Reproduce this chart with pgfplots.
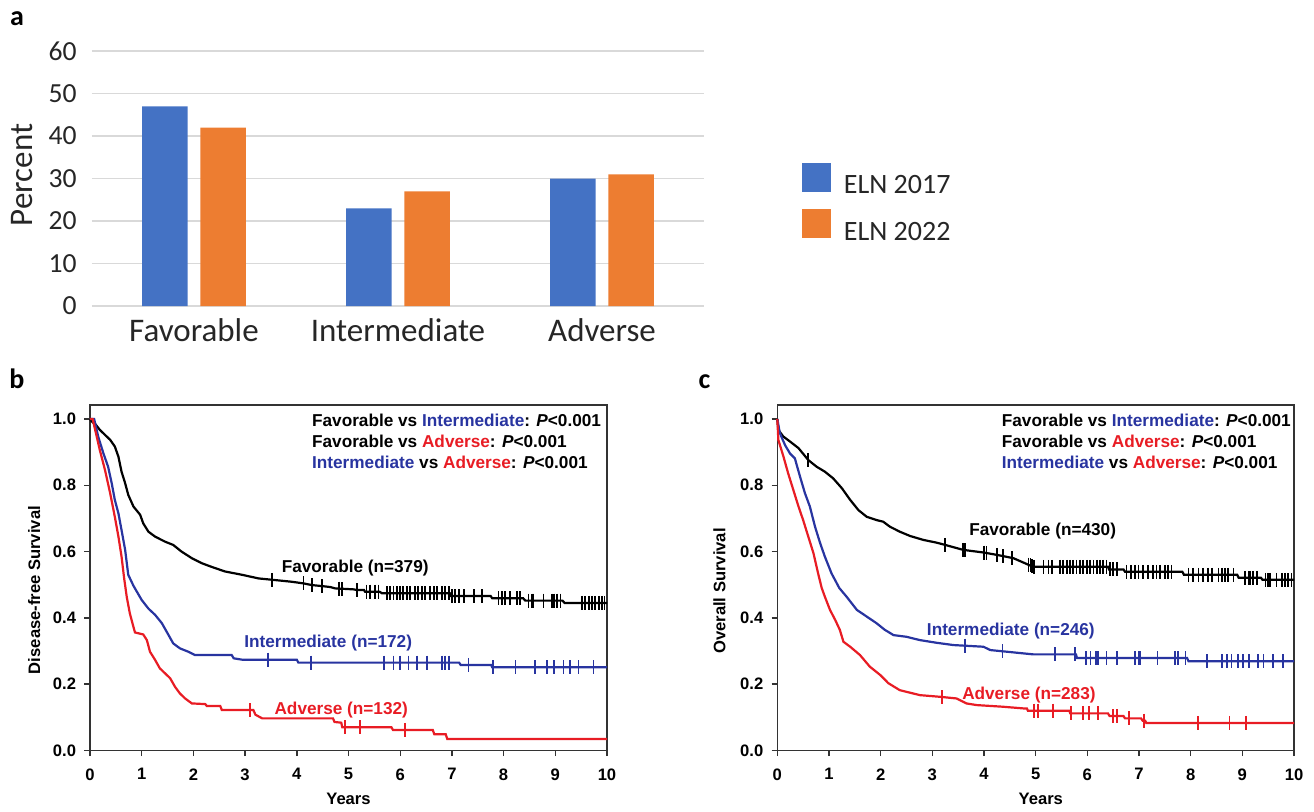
\documentclass[border=0pt]{standalone}
\usepackage{fontspec}
\setmainfont{Carlito}
\newfontfamily\ls{Liberation Sans}
\usepackage{pgfplots}
\pgfplotsset{compat=1.18}
\definecolor{eblue}{HTML}{4472C4}
\definecolor{eorange}{HTML}{ED7D31}
\definecolor{kmblue}{RGB}{40,52,160}
\definecolor{kmred}{RGB}{232,28,36}
\definecolor{gridgray}{HTML}{D9D9D9}
\newcommand\kmfont{\ls\bfseries\fontsize{8.6}{10}\selectfont}
\newcommand\kmtick{\ls\bfseries\fontsize{8.3}{10}\selectfont}
\pgfplotsset{
  sqlegend/.style={legend image code/.code={\fill[##1] (0pt,-2.75pt) rectangle (14.5pt,11.75pt);}},
  km/.style={
    scale only axis, width=258.5pt, height=172.75pt,
    xmin=0, xmax=10, ymin=0, ymax=1.042,
    xtick={0,1,2,3,4,5,6,7,8,9,10}, ytick={0,0.2,0.4,0.6,0.8,1},
    yticklabels={0.0,0.2,0.4,0.6,0.8,1.0},
    xtick pos=bottom, ytick pos=left,
    tick align=outside, major tick length=2.8pt,
    axis line style={line width=0.7pt, black!80},
    tick style={line width=0.7pt, black!80},
    /pgf/number format/assume math mode=true,
    tick label style={font=\kmtick},
    xticklabel style={inner sep=0pt, yshift=-6pt},
    yticklabel style={inner sep=0pt, xshift=-4pt},
    clip=false,
  },
  kmline/.style={line width=1.1pt, mark=none},
  kmcens/.style={only marks, mark=|, mark size=3.5pt, mark options={line width=0.9pt}},
}
\begin{document}
\begin{tikzpicture}
\useasboundingbox (0,0) rectangle (657pt,-405.5pt);
% panel labels
\node[font=\bfseries\fontsize{14}{16}\selectfont, anchor=base] at (8.5pt,-12.5pt) {a};
\node[font=\bfseries\fontsize{14}{16}\selectfont, anchor=base] at (8.5pt,-194pt) {b};
\node[font=\bfseries\fontsize{14}{16}\selectfont, anchor=base] at (352.2pt,-194pt) {c};

% ---------------- panel a ----------------
\begin{axis}[
  at={(46pt,-153pt)}, anchor=south west,
  scale only axis, width=306pt, height=127.5pt,
  xmin=-0.5, xmax=2.5, ymin=0, ymax=60,
  xtick={0,1,2}, xticklabels={Favorable,Intermediate,Adverse},
  ytick={0,10,20,30,40,50,60},
  axis line style={draw=none}, major tick length=0pt, tick style={draw=none},
  ymajorgrids, grid style={draw=gridgray, line width=0.8pt},
  /pgf/number format/assume math mode=true,
  yticklabel style={font=\fontsize{13.8}{15}\selectfont, color=black!85, inner sep=0pt, xshift=-7.5pt},
  xticklabel style={font=\fontsize{16.5}{18}\selectfont, color=black!85, inner sep=0pt, yshift=-6.3pt},
  ylabel={Percent},
  every axis y label/.style={at={(axis description cs:-0.114,0.514)}, rotate=90, anchor=center, font=\fontsize{16.5}{18}\selectfont, color=black!85},
  legend style={at={(axis description cs:1.1596,0.562)}, anchor=north west, draw=none, fill=none,
    inner sep=0pt, outer sep=0pt, row sep=6.15pt, column sep=6.6pt,
    font=\fontsize{14}{16}\selectfont, nodes={inner sep=0pt}, text=black!85},
  legend cell align=left,
]
\addplot[ybar, bar width=22.75pt, bar shift=-14.6pt, fill=eblue, draw=none, sqlegend]
  coordinates {(0,47) (1,23) (2,30)};
\addlegendentry{ELN 2017}
\addplot[ybar, bar width=22.75pt, bar shift=14.6pt, fill=eorange, draw=none, sqlegend]
  coordinates {(0,42) (1,27) (2,31)};
\addlegendentry{ELN 2022}
\end{axis}

% ---------------- panel b ----------------
\begin{axis}[km, at={(45pt,-375.25pt)}, anchor=south west,
  xlabel={Years}, ylabel={Disease-free Survival},
  every axis x label/.style={at={(axis description cs:0.5,0)}, anchor=north, yshift=-21pt, inner sep=0pt, font=\kmtick},
  every axis y label/.style={at={(axis description cs:-0.108,0.4645)}, rotate=90, anchor=center, font=\kmtick},
]
\addplot[kmline, black] coordinates {
(0,1.0) (0.05,0.99) (0.1,0.985) (0.19,0.967) (0.29,0.952) (0.39,0.937) (0.48,0.917) (0.55,0.886) (0.61,0.841) (0.68,0.806) (0.74,0.771) (0.84,0.736) (0.97,0.711) (1.03,0.685) (1.13,0.660) (1.26,0.645) (1.45,0.630) (1.61,0.620) (1.77,0.600) (1.97,0.580) (2.16,0.565) (2.35,0.554) (2.61,0.540) (2.94,0.530) (3.26,0.519) (3.52,0.515) (3.9,0.509) (4.13,0.504) (4.29,0.499) (4.48,0.496) (4.65,0.493) (4.74,0.489) (5.1,0.486) (5.16,0.484) (5.3,0.484) (5.32,0.479) (5.6,0.479) (5.65,0.474) (6.96,0.474) (6.98,0.466) (7.75,0.466) (7.78,0.459) (8.38,0.459) (8.42,0.452) (9.14,0.452) (9.18,0.445) (10,0.445)};
\addplot[kmcens, black] coordinates {
(3.52,0.515) (4.13,0.504) (4.29,0.499) (4.48,0.496) (4.81,0.488) (4.87,0.487) (5.16,0.484) (5.35,0.479) (5.42,0.479) (5.52,0.479) (5.58,0.479) (5.74,0.474) (5.81,0.474) (5.87,0.474) (5.94,0.474) (6.0,0.474) (6.06,0.474) (6.13,0.474) (6.19,0.474) (6.29,0.474) (6.35,0.474) (6.42,0.474) (6.48,0.474) (6.58,0.474) (6.65,0.474) (6.71,0.474) (6.81,0.474) (6.87,0.474) (6.94,0.474) (7.0,0.466) (7.06,0.466) (7.13,0.466) (7.23,0.466) (7.42,0.466) (7.58,0.466) (7.9,0.459) (7.97,0.459) (8.03,0.459) (8.13,0.459) (8.26,0.459) (8.32,0.459) (8.48,0.452) (8.55,0.452) (8.58,0.452) (8.77,0.452) (8.94,0.452) (8.97,0.452) (9.03,0.452) (9.1,0.452) (9.52,0.445) (9.58,0.445) (9.65,0.445) (9.71,0.445) (9.77,0.445) (9.84,0.445) (9.9,0.445) (9.95,0.445)};
\addplot[kmline, kmblue] coordinates {
(0,1.0) (0.08,1.0) (0.16,0.946) (0.26,0.896) (0.35,0.856) (0.42,0.806) (0.48,0.756) (0.55,0.715) (0.61,0.665) (0.68,0.605) (0.74,0.53) (0.84,0.497) (0.94,0.470) (1.0,0.454) (1.13,0.428) (1.26,0.409) (1.39,0.384) (1.52,0.348) (1.61,0.323) (1.74,0.308) (1.9,0.298) (2.03,0.288) (2.74,0.288) (2.78,0.278) (2.94,0.274) (4.0,0.274) (4.03,0.265) (7.14,0.265) (7.17,0.258) (7.76,0.258) (7.78,0.251) (10,0.251)};
\addplot[kmcens, kmblue] coordinates {
(3.44,0.274) (4.28,0.265) (5.68,0.265) (5.87,0.265) (6.0,0.265) (6.16,0.265) (6.32,0.265) (6.52,0.265) (6.81,0.265) (6.87,0.265) (6.94,0.265) (7.32,0.258) (7.79,0.251) (8.23,0.251) (8.61,0.251) (8.84,0.251) (8.97,0.251) (9.16,0.251) (9.29,0.251) (9.45,0.251) (9.74,0.251)};
\addplot[kmline, kmred] coordinates {
(0,1.0) (0.05,1.0) (0.1,0.967) (0.19,0.906) (0.29,0.846) (0.39,0.776) (0.48,0.705) (0.55,0.645) (0.61,0.585) (0.66,0.52) (0.71,0.464) (0.77,0.414) (0.84,0.373) (0.87,0.356) (1.03,0.35) (1.1,0.333) (1.16,0.298) (1.26,0.273) (1.35,0.248) (1.45,0.233) (1.55,0.218) (1.645,0.192) (1.74,0.172) (1.84,0.157) (1.97,0.142) (2.23,0.14) (2.26,0.134) (2.52,0.134) (2.55,0.122) (3.16,0.122) (3.2,0.108) (3.33,0.097) (4.7,0.097) (4.73,0.086) (4.86,0.084) (4.88,0.07) (5.83,0.07) (5.86,0.062) (6.63,0.062) (6.66,0.049) (6.88,0.049) (6.91,0.035) (10,0.035)};
\addplot[kmcens, kmred] coordinates {(3.1,0.122) (4.94,0.07) (5.23,0.07) (6.1,0.062)};
\node[anchor=base west, font=\kmfont] at (axis cs:4.16,0.976) {Favorable vs \textcolor{kmblue}{Intermediate}: \textit{P}<0.001};
\node[anchor=base west, font=\kmfont] at (axis cs:4.16,0.9125) {Favorable vs \textcolor{kmred}{Adverse}: \textit{P}<0.001};
\node[anchor=base west, font=\kmfont] at (axis cs:4.16,0.851) {\textcolor{kmblue}{Intermediate} vs \textcolor{kmred}{Adverse}: \textit{P}<0.001};
\node[font=\kmfont] at (axis cs:5.13,0.5505) {Favorable (n=379)};
\node[font=\kmfont, text=kmblue] at (axis cs:4.606,0.324) {Intermediate (n=172)};
\node[font=\kmfont, text=kmred] at (axis cs:4.86,0.122) {Adverse (n=132)};
\end{axis}

% ---------------- panel c ----------------
\begin{axis}[km, at={(388.65pt,-375.25pt)}, anchor=south west, width=258.35pt,
  xlabel={Years}, ylabel={Overall Survival},
  every axis x label/.style={at={(axis description cs:0.51,0)}, anchor=north, yshift=-21pt, inner sep=0pt, font=\kmtick},
  every axis y label/.style={at={(axis description cs:-0.112,0.4617)}, rotate=90, anchor=center, font=\kmtick},
]
\addplot[kmline, black] coordinates {
(0,1.0) (0.02,0.967) (0.116,0.947) (0.245,0.932) (0.41,0.912) (0.6,0.876) (0.76,0.856) (0.92,0.841) (1.08,0.821) (1.25,0.791) (1.41,0.756) (1.57,0.725) (1.73,0.705) (1.92,0.695) (2.05,0.690) (2.18,0.675) (2.37,0.660) (2.57,0.647) (2.83,0.635) (3.08,0.627) (3.25,0.620) (3.6,0.605) (4.0,0.597) (4.25,0.590) (4.57,0.580) (4.79,0.565) (4.95,0.554) (6.4,0.554) (6.42,0.546) (6.7,0.546) (6.73,0.539) (7.84,0.539) (7.87,0.53) (8.9,0.53) (8.93,0.521) (9.36,0.521) (9.39,0.515) (10,0.515)};
\addplot[kmcens, black] coordinates {
(0.6,0.876) (3.25,0.62) (3.6,0.605) (3.64,0.604) (4.0,0.597) (4.05,0.596) (4.25,0.59) (4.37,0.586) (4.54,0.581) (4.86,0.561) (4.9,0.558) (4.93,0.556) (4.97,0.554) (5.15,0.554) (5.25,0.554) (5.31,0.554) (5.47,0.554) (5.53,0.554) (5.6,0.554) (5.66,0.554) (5.73,0.554) (5.79,0.554) (5.86,0.554) (5.92,0.554) (5.99,0.554) (6.05,0.554) (6.12,0.554) (6.18,0.554) (6.24,0.554) (6.31,0.554) (6.37,0.554) (6.44,0.546) (6.5,0.546) (6.57,0.546) (6.76,0.539) (6.85,0.539) (6.92,0.539) (6.99,0.539) (7.08,0.539) (7.18,0.539) (7.27,0.539) (7.34,0.539) (7.4,0.539) (7.5,0.539) (7.56,0.539) (7.63,0.539) (7.96,0.53) (8.05,0.53) (8.15,0.53) (8.24,0.53) (8.34,0.53) (8.41,0.53) (8.54,0.53) (8.6,0.53) (8.67,0.53) (8.73,0.53) (8.83,0.53) (9.05,0.521) (9.12,0.521) (9.15,0.521) (9.21,0.521) (9.28,0.521) (9.45,0.515) (9.5,0.515) (9.53,0.515) (9.66,0.515) (9.76,0.515) (9.83,0.515) (9.89,0.515) (9.95,0.515)};
\addplot[kmline, kmblue] coordinates {
(0,1.0) (0.05,0.957) (0.15,0.921) (0.245,0.896) (0.34,0.881) (0.44,0.826) (0.535,0.776) (0.63,0.736) (0.73,0.675) (0.83,0.625) (0.92,0.585) (1.05,0.534) (1.2,0.49) (1.34,0.464) (1.54,0.424) (1.73,0.404) (1.92,0.384) (2.08,0.364) (2.25,0.348) (2.5,0.343) (2.76,0.333) (3.08,0.325) (3.41,0.318) (3.99,0.313) (4.12,0.303) (4.63,0.295) (4.95,0.29) (5.78,0.29) (5.8,0.279) (7.93,0.279) (7.96,0.269) (10,0.269)};
\addplot[kmcens, kmblue] coordinates {
(3.64,0.316) (4.36,0.300) (5.37,0.29) (5.76,0.29) (5.97,0.279) (6.06,0.279) (6.17,0.279) (6.21,0.279) (6.37,0.279) (6.57,0.279) (6.93,0.279) (6.99,0.279) (7.02,0.279) (7.36,0.279) (7.7,0.279) (7.76,0.279) (7.9,0.279) (8.31,0.269) (8.6,0.269) (8.7,0.269) (8.79,0.269) (8.92,0.269) (9.02,0.269) (9.13,0.269) (9.31,0.269) (9.41,0.269) (9.6,0.269) (9.79,0.269)};
\addplot[kmline, kmred] coordinates {
(0,1.0) (0.02,0.937) (0.12,0.886) (0.21,0.836) (0.31,0.786) (0.41,0.736) (0.5,0.695) (0.6,0.645) (0.7,0.595) (0.79,0.534) (0.86,0.49) (0.92,0.464) (1.02,0.424) (1.12,0.394) (1.21,0.364) (1.28,0.328) (1.41,0.313) (1.6,0.288) (1.79,0.253) (1.99,0.228) (2.15,0.203) (2.37,0.182) (2.63,0.172) (2.76,0.167) (3.15,0.162) (3.47,0.157) (3.66,0.142) (3.86,0.137) (4.37,0.132) (4.76,0.127) (4.83,0.127) (4.85,0.12) (5.65,0.12) (5.67,0.112) (6.4,0.112) (6.43,0.104) (6.7,0.104) (6.73,0.097) (7.04,0.097) (7.07,0.09) (7.12,0.09) (7.14,0.083) (10,0.083)};
\addplot[kmcens, kmred] coordinates {
(3.19,0.161) (4.97,0.12) (5.05,0.12) (5.33,0.12) (5.69,0.112) (5.92,0.112) (6.03,0.112) (6.2,0.112) (6.49,0.104) (6.57,0.104) (6.81,0.097) (7.1,0.09) (8.14,0.083) (8.75,0.083) (9.07,0.083)};
\node[anchor=base west, font=\kmfont] at (axis cs:4.21,0.976) {Favorable vs \textcolor{kmblue}{Intermediate}: \textit{P}<0.001};
\node[anchor=base west, font=\kmfont] at (axis cs:4.21,0.9125) {Favorable vs \textcolor{kmred}{Adverse}: \textit{P}<0.001};
\node[anchor=base west, font=\kmfont] at (axis cs:4.21,0.851) {\textcolor{kmblue}{Intermediate} vs \textcolor{kmred}{Adverse}: \textit{P}<0.001};
\node[font=\kmfont] at (axis cs:5.135,0.661) {Favorable (n=430)};
\node[font=\kmfont, text=kmblue] at (axis cs:4.52,0.359) {Intermediate (n=246)};
\node[font=\kmfont, text=kmred] at (axis cs:4.87,0.168) {Adverse (n=283)};
\end{axis}
\end{tikzpicture}
\end{document}
